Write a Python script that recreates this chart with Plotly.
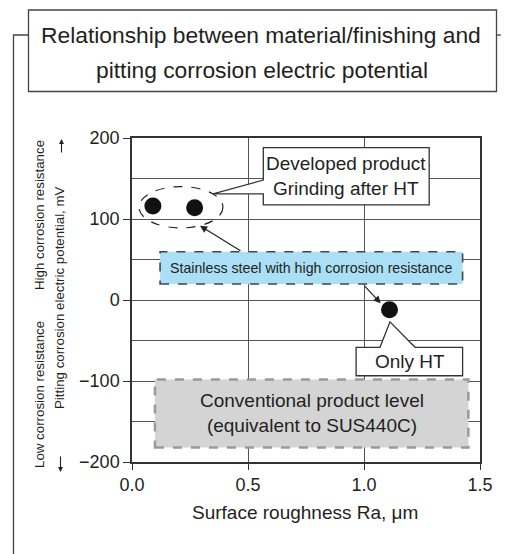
import plotly.graph_objects as go

# ---- data ----
roughness = [0.09, 0.27, 1.11]          # Surface roughness Ra, um
potential = [116, 114, -12]             # Pitting corrosion electric potential, mV
x_ticks = [0.0, 0.5, 1.0, 1.5]
x_tick_labels = ["0.0", "0.5", "1.0", "1.5"]
y_ticks = [-200, -100, 0, 100, 200]
y_tick_labels = ["\u2212200", "\u2212100", "0", "100", "200"]

TXT = "#231f20"
SANS = "Liberation Sans, Arial, Helvetica, sans-serif"

fig = go.Figure()
fig.add_trace(go.Scatter(
    x=roughness, y=potential, mode="markers",
    marker=dict(size=17, color="#111111"), hoverinfo="skip", showlegend=False,
))

OFF = 8                      # page body margin
W, H = 509 - OFF, 554 - OFF
L, R, T, B = 132 - OFF, 29, 138 - OFF, 92

def px(xp):  # reference pixel x -> paper
    return (xp - OFF - L) / (W - L - R)

def py(yp):  # reference pixel y -> paper
    return (H - B - (yp - OFF)) / (H - T - B)

shapes = []
ann = []

def pann(x, y, text, size, angle=0, family=SANS):
    ann.append(dict(xref="paper", yref="paper", x=px(x), y=py(y), xanchor="center", yanchor="middle",
                    showarrow=False, text=text, textangle=angle, align="center",
                    font=dict(size=size, color=TXT, family=family)))

def dann(x, y, text, size, family=SANS):
    ann.append(dict(xref="x", yref="y", x=x, y=y, xanchor="center", yanchor="middle",
                    showarrow=False, text=text, align="center",
                    font=dict(size=size, color=TXT, family=family)))

# title box and bracket
shapes.append(dict(type="rect", xref="paper", yref="paper",
                   x0=px(28.5), x1=px(496.5), y0=py(91.5), y1=py(10),
                   line=dict(color="#444", width=1.3), fillcolor="white"))
shapes.append(dict(type="path", xref="paper", yref="paper",
                   path=f"M {px(28.5)},{py(35)} L {px(13.5)},{py(35)} L {px(13.5)},{py(560)}",
                   line=dict(color="#444", width=1.3)))
shapes.append(dict(type="line", xref="paper", yref="paper",
                   x0=px(496.5), x1=px(512), y0=py(35), y1=py(35),
                   line=dict(color="#444", width=1.3)))
pann(261, 35, "Relationship between material/finishing and", 22.8)
pann(262, 70, "pitting corrosion electric potential", 22.8)

# ellipse around developed product points
shapes.append(dict(type="circle", xref="x", yref="y", x0=0.03, x1=0.392, y0=89, y1=140,
                   line=dict(color="#222", width=1.2, dash="dash"), layer="above"))

# developed product callout
shapes.append(dict(type="path", xref="x", yref="y", layer="above",
                   path="M 0.566,188 L 1.281,188 L 1.281,117.5 L 0.566,117.5 L 0.566,131 L 0.349,131 L 0.566,148 Z",
                   line=dict(color="#333", width=1.3), fillcolor="white"))
dann(0.922, 153, "Developed product<br>Grinding after HT", 19)

# only HT callout
shapes.append(dict(type="path", xref="x", yref="y", layer="above",
                   path="M 0.966,-58.4 L 1.069,-58.4 L 1.112,-27 L 1.22,-58.4 L 1.425,-58.4 L 1.425,-93.5 L 0.966,-93.5 Z",
                   line=dict(color="#333", width=1.3), fillcolor="white"))
dann(1.197, -76, "Only HT", 19)

# stainless steel band
shapes.append(dict(type="rect", xref="x", yref="y", layer="above",
                   x0=0.121, x1=1.425, y0=19.8, y1=59.6,
                   line=dict(color="#444", width=1.6, dash="dash"), fillcolor="#aadff6"))
dann(0.772, 39.5, "Stainless steel with high corrosion resistance", 14.2)

# conventional level band
shapes.append(dict(type="rect", xref="x", yref="y", layer="above",
                   x0=0.099, x1=1.45, y0=-182, y1=-98,
                   line=dict(color="#9a9a9a", width=2.5, dash="dash"), fillcolor="#d4d4d4"))
dann(0.775, -140, "Conventional product level<br>(equivalent to SUS440C)", 19)

# arrows
for (hx, hy, tx, ty) in [(0.293, 91.6, 0.474, 59.6), (1.072, -4, 0.997, 18.9)]:
    ann.append(dict(xref="x", yref="y", axref="x", ayref="y", x=hx, y=hy, ax=tx, ay=ty,
                    text="", showarrow=True, arrowhead=2, arrowsize=1.2, arrowwidth=1.2,
                    arrowcolor="#222", standoff=0, startstandoff=0))

# y-axis titles
pann(59, 298, "Pitting corrosion electric potential, mV", 13.3, -90)
pann(39, 215, "High corrosion resistance", 13.3, -90)
pann(39, 395, "Low corrosion resistance", 13.3, -90)
# direction arrows beside the y title
for (hx, hy, ty) in [(61.5, 139, 154), (60.5, 472, 455)]:
    ann.append(dict(xref="paper", yref="paper", axref="pixel", ayref="pixel",
                    x=px(hx), y=py(hy), ax=0, ay=(ty - hy),
                    text="", showarrow=True, arrowhead=2, arrowsize=0.9, arrowwidth=1.1,
                    arrowcolor="#222", standoff=0, startstandoff=0))

# x-axis title
pann(305, 512, "Surface roughness Ra, \u03bcm", 19)

fig.update_layout(
    width=W, height=H, margin=dict(l=L, r=R, t=T, b=B),
    paper_bgcolor="white", plot_bgcolor="white",
    shapes=shapes, annotations=ann, showlegend=False,
)
fig.update_xaxes(range=[0, 1.5], tickvals=x_ticks, ticktext=x_tick_labels,
                 showgrid=True, gridcolor="#555", gridwidth=1, zeroline=False,
                 showline=True, linecolor="#333", linewidth=1.5, mirror=True,
                 ticks="outside", ticklen=6, tickcolor="#333",
                 tickfont=dict(size=18, color=TXT, family=SANS))
fig.update_yaxes(range=[-200, 200], tickvals=y_ticks, ticktext=y_tick_labels,
                 showgrid=True, gridcolor="#555", gridwidth=1, zeroline=False,
                 minor=dict(dtick=50, tick0=0, showgrid=True, gridcolor="#555", gridwidth=1),
                 showline=True, linecolor="#333", linewidth=1.5, mirror=True,
                 ticks="outside", ticklen=7, tickcolor="#333",
                 tickfont=dict(size=18, color=TXT, family=SANS))

fig.write_html("out.html")
